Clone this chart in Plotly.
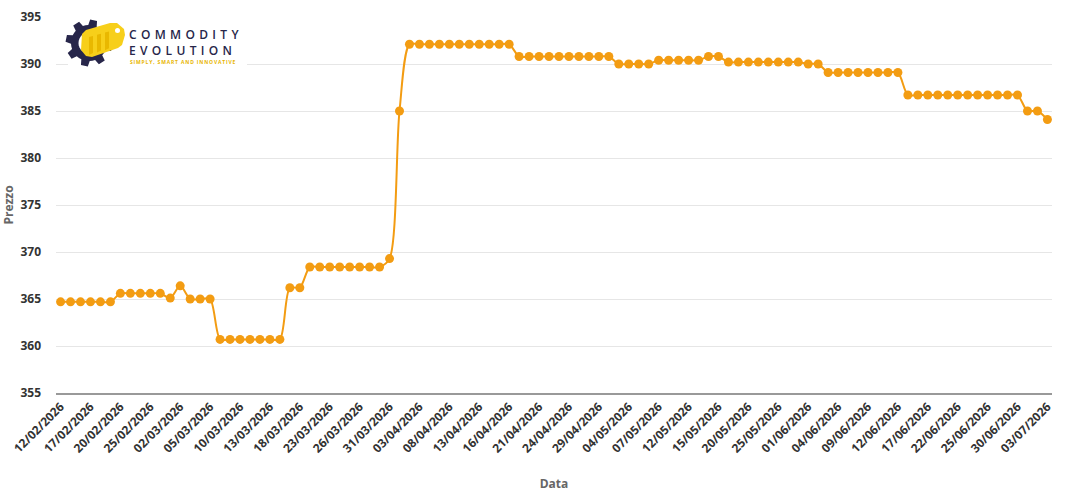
import math
import plotly.graph_objects as go

dates = ["12/02/2026","13/02/2026","16/02/2026","17/02/2026","18/02/2026","19/02/2026","20/02/2026",
         "23/02/2026","24/02/2026","25/02/2026","26/02/2026","27/02/2026","02/03/2026","03/03/2026",
         "04/03/2026","05/03/2026","06/03/2026","09/03/2026","10/03/2026","11/03/2026","12/03/2026",
         "13/03/2026","16/03/2026","17/03/2026","18/03/2026","19/03/2026","20/03/2026","23/03/2026",
         "24/03/2026","25/03/2026","26/03/2026","27/03/2026","30/03/2026","31/03/2026","01/04/2026",
         "02/04/2026","03/04/2026","06/04/2026","07/04/2026","08/04/2026","09/04/2026","10/04/2026",
         "13/04/2026","14/04/2026","15/04/2026","16/04/2026","17/04/2026","20/04/2026","21/04/2026",
         "22/04/2026","23/04/2026","24/04/2026","27/04/2026","28/04/2026","29/04/2026","30/04/2026",
         "01/05/2026","04/05/2026","05/05/2026","06/05/2026","07/05/2026","08/05/2026","11/05/2026",
         "12/05/2026","13/05/2026","14/05/2026","15/05/2026","18/05/2026","19/05/2026","20/05/2026",
         "21/05/2026","22/05/2026","25/05/2026","26/05/2026","28/05/2026","01/06/2026","02/06/2026",
         "03/06/2026","04/06/2026","05/06/2026","08/06/2026","09/06/2026","10/06/2026","11/06/2026",
         "12/06/2026","15/06/2026","16/06/2026","17/06/2026","18/06/2026","19/06/2026","22/06/2026",
         "23/06/2026","24/06/2026","25/06/2026","26/06/2026","29/06/2026","30/06/2026","01/07/2026",
         "02/07/2026","03/07/2026"]

prezzo = [364.7, 364.7, 364.7, 364.7, 364.7, 364.7,
          365.6, 365.6, 365.6, 365.6, 365.6,
          365.1, 366.4, 365.0, 365.0, 365.0,
          360.7, 360.7, 360.7, 360.7, 360.7, 360.7, 360.7,
          366.2, 366.2,
          368.4, 368.4, 368.4, 368.4, 368.4, 368.4, 368.4, 368.4,
          369.3, 385.0,
          392.1, 392.1, 392.1, 392.1, 392.1, 392.1, 392.1, 392.1, 392.1, 392.1, 392.1,
          390.8, 390.8, 390.8, 390.8, 390.8, 390.8, 390.8, 390.8, 390.8, 390.8,
          390.0, 390.0, 390.0, 390.0,
          390.4, 390.4, 390.4, 390.4, 390.4,
          390.8, 390.8,
          390.2, 390.2, 390.2, 390.2, 390.2, 390.2, 390.2, 390.2,
          390.0, 390.0,
          389.1, 389.1, 389.1, 389.1, 389.1, 389.1, 389.1, 389.1,
          386.7, 386.7, 386.7, 386.7, 386.7, 386.7, 386.7, 386.7, 386.7, 386.7, 386.7, 386.7,
          385.0, 385.0, 384.1]

tick_labels = dates[::3]
y_ticks = [355, 360, 365, 370, 375, 380, 385, 390, 395]

ORANGE = "#F39C12"
NAVY = "#27264A"
YELLOW = "#F7CF1A"

W, H = 1073, 501
ML, MR, MT, MB = 56, 21, 17, 108
PW, PH = W - ML - MR, H - MT - MB


def px(x):
    return (x - ML) / PW


def py(y):
    return (H - MB - y) / PH


def path_from(points):
    s = "M " + " L ".join(f"{px(a):.5f},{py(b):.5f}" for a, b in points) + " Z"
    return s


fig = go.Figure()
fig.add_trace(go.Scatter(
    x=dates, y=prezzo, mode="lines+markers",
    line=dict(color=ORANGE, width=2, shape="spline", smoothing=0.8),
    marker=dict(color=ORANGE, size=9, line=dict(width=0)),
    showlegend=False,
))

shapes = []
# logo white background
shapes.append(dict(type="rect", xref="paper", yref="paper", layer="above",
                   x0=px(68), x1=px(247), y0=py(67), y1=py(18),
                   fillcolor="white", line=dict(width=0)))
# gear
cx, cy = 89, 43
pts = []
nteeth = 8
for i in range(nteeth):
    base = 2 * math.pi * i / nteeth + 0.2
    for da, r in [(-0.24, 18), (-0.15, 23.5), (0.15, 23.5), (0.24, 18), (0.39, 18)]:
        a = base + da
        pts.append((cx + r * math.cos(a), cy + r * math.sin(a)))
shapes.append(dict(type="path", xref="paper", yref="paper", layer="above",
                   path=path_from(pts), fillcolor=NAVY, line=dict(width=0)))
hole = [(cx + 10.5 * math.cos(t / 30 * 2 * math.pi), cy + 10.5 * math.sin(t / 30 * 2 * math.pi)) for t in range(30)]
shapes.append(dict(type="path", xref="paper", yref="paper", layer="above",
                   path=path_from(hole), fillcolor="white", line=dict(width=0)))
# yellow tag
tag = [(82, 34), (86, 30), (110, 23), (117, 23), (124, 29), (125, 35), (122, 45), (118, 48), (92, 57), (86, 56), (81, 50)]
shapes.append(dict(type="path", xref="paper", yref="paper", layer="above",
                   path=path_from(tag), fillcolor=YELLOW, line=dict(width=0)))
for bx in [89, 97, 105]:
    shapes.append(dict(type="path", xref="paper", yref="paper", layer="above",
                       path=path_from([(bx, 37 - (bx - 89) * 0.28), (bx + 4, 36 - (bx - 89) * 0.28),
                                       (bx + 4, 53 - (bx - 89) * 0.3), (bx, 55 - (bx - 89) * 0.3)]),
                       fillcolor="#E9B800", line=dict(width=0)))
shapes.append(dict(type="circle", xref="paper", yref="paper", layer="above",
                   x0=px(115), x1=px(120), y0=py(33), y1=py(28),
                   fillcolor="white", line=dict(width=0)))

sp = "\u2009"
wide = " \u200a"
annotations = [
    dict(text=wide.join("COMMODITY") + "<br>" + wide.join("EVOLUTION"),
         xref="paper", yref="paper", x=px(128), y=py(42), align="left",
         xanchor="left", yanchor="middle", showarrow=False, borderpad=0,
         font=dict(family="Open Sans", size=12, color=NAVY, weight=600)),
    dict(text=sp.join("SIMPLY, SMART AND INNOVATIVE"), xref="paper", yref="paper", x=px(129), y=py(62.5),
         xanchor="left", yanchor="middle", showarrow=False, borderpad=0,
         font=dict(family="Open Sans", size=5, color="#E8B500", weight="bold")),
]

fig.update_layout(
    width=W, height=H,
    margin=dict(l=ML, r=MR, t=MT, b=MB, pad=0),
    paper_bgcolor="white", plot_bgcolor="white",
    font=dict(family="Open Sans", size=12, color="#333333"),
    shapes=shapes, annotations=annotations,
    xaxis=dict(
        type="category", range=[-0.46, 99.46],
        tickmode="array", tickvals=tick_labels, ticktext=tick_labels,
        tickangle=-45, tickfont=dict(family="Open Sans", size=12, color="#333333", weight="bold"),
        showgrid=False, showline=True, linecolor="#999999", linewidth=2,
        ticks="", automargin=False,
        title=dict(text="Data", standoff=24,
                   font=dict(family="Open Sans", size=12, color="#666666", weight="bold")),
    ),
    yaxis=dict(
        range=[355, 395], tickvals=y_ticks,
        tickfont=dict(family="Open Sans", size=12, color="#333333", weight="bold"),
        showgrid=True, gridcolor="#E6E6E6", gridwidth=1,
        zeroline=False, showline=False, ticks="", ticklabelstandoff=14,
        automargin=False,
        title=dict(text="Prezzo", standoff=8,
                   font=dict(family="Open Sans", size=12, color="#666666", weight="bold")),
    ),
)

fig.write_html("out.html")
